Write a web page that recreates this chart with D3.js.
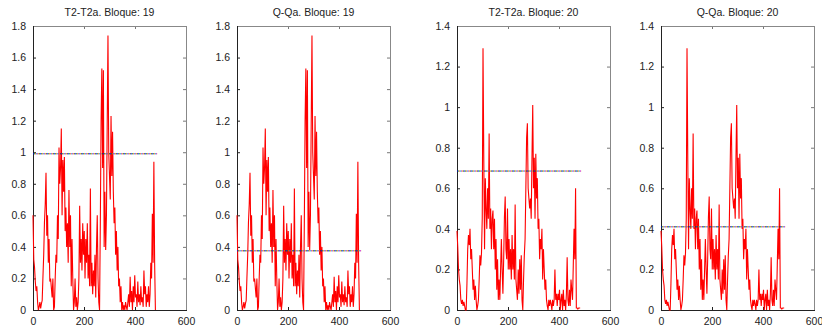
<!DOCTYPE html>
<html>
<head>
<meta charset="utf-8">
<script src="https://cdn.jsdelivr.net/npm/d3@7"></script>
<style>
  html, body { margin: 0; padding: 0; background: #fff; }
  svg { display: block; }
  text { font-family: "Liberation Sans", Arial, sans-serif; fill: #222; }
</style>
</head>
<body>
<svg id="chart" width="822" height="330"></svg>
<script>
// ---- data (one value every 3 samples) ----
const sampleStep = 3;
const bloque19 = [
  0.60,0.32,0.27,0.18,0.12,0.15,0.05,0.00,0.02,0.05,0.01,0.04,0.06,0.21,0.35,0.56,
  0.67,0.87,0.47,0.60,0.30,0.45,0.18,0.20,0.14,0.08,0.20,0.00,0.02,0.20,0.35,0.30,
  0.60,0.45,1.03,0.80,0.90,1.15,0.60,0.95,0.75,0.97,0.50,0.65,0.40,0.55,0.30,0.76,
  0.40,0.60,0.15,0.45,0.20,0.00,0.05,0.20,0.02,0.08,0.00,0.05,0.20,0.66,0.30,0.45,
  0.25,0.55,0.35,0.50,0.20,0.45,0.30,0.55,0.20,0.35,0.15,0.77,0.15,0.30,0.10,0.25,
  0.15,0.35,0.08,0.40,0.60,0.20,0.05,0.00,0.55,1.20,1.53,0.90,1.52,0.40,0.75,0.38,
  0.60,1.18,1.74,1.00,0.85,0.70,1.23,0.85,1.13,0.75,0.55,0.65,0.35,0.50,0.25,0.40,
  0.15,0.20,0.05,0.15,0.00,0.05,0.00,0.03,0.00,0.05,0.02,0.00,0.05,0.10,0.02,0.21,
  0.05,0.12,0.00,0.15,0.05,0.22,0.08,0.10,0.02,0.18,0.05,0.10,0.03,0.15,0.05,0.08,
  0.02,0.25,0.10,0.15,0.02,0.10,0.05,0.15,0.02,0.10,0.30,0.20,0.61,0.30,0.94,0.30,
  0.00
];
const bloque20 = [
  0.39,0.31,0.20,0.15,0.12,0.05,0.03,0.05,0.02,0.04,0.02,0.00,0.00,0.13,0.30,0.37,
  0.32,0.40,0.25,0.30,0.20,0.10,0.15,0.05,0.12,0.05,0.00,0.02,0.05,0.15,0.27,0.22,
  0.28,0.45,1.29,0.75,0.30,0.65,0.50,0.40,0.60,0.45,0.87,0.40,0.50,0.30,0.45,0.49,
  0.30,0.45,0.20,0.35,0.10,0.25,0.05,0.15,0.05,0.20,0.35,0.20,0.08,0.25,0.46,0.56,
  0.30,0.25,0.50,0.20,0.35,0.20,0.30,0.15,0.37,0.20,0.30,0.15,0.52,0.15,0.10,0.05,
  0.20,0.08,0.25,0.10,0.27,0.05,0.00,0.15,0.27,0.35,0.60,0.85,0.92,0.60,0.55,0.50,
  0.55,0.45,0.75,1.01,0.60,0.75,0.45,0.77,0.55,0.65,0.40,0.45,0.25,0.35,0.30,0.40,
  0.15,0.30,0.20,0.10,0.15,0.05,0.02,0.00,0.05,0.02,0.05,0.03,0.00,0.05,0.02,0.05,
  0.20,0.05,0.08,0.02,0.08,0.05,0.10,0.00,0.05,0.08,0.00,0.10,0.02,0.05,0.00,0.08,
  0.26,0.05,0.02,0.10,0.02,0.15,0.10,0.05,0.22,0.40,0.25,0.60,0.01,0.01,0.005,0.01,
  0.01,0.01
];
const titles = ["T2-T2a. Bloque: 19", "Q-Qa. Bloque: 19", "T2-T2a. Bloque: 20", "Q-Qa. Bloque: 20"];
const seriesByPanel = [bloque19, bloque19, bloque20, bloque20];
const thresholds = [0.99, 0.375, 0.685, 0.41];
const thresholdEnd = 487;
const yMaxes = [1.8, 1.8, 1.4, 1.4];
const xTicks = [0, 200, 400, 600];
const xDomain = [0, 600];

// ---- layout ----
const svg = d3.select("#chart");
const panelLefts = [33, 237, 457, 661];
const pw = 153, ph = 284, panelTop = 26;
const dotColors = ["#0000ff", "#00a000", "#ff3030", "#00b0c0", "#c000c0", "#c0a000", "#303030"];

titles.forEach((title, p) => {
  const g = svg.append("g").attr("transform", `translate(${panelLefts[p]},${panelTop})`);
  const x = d3.scaleLinear().domain(xDomain).range([0, pw]);
  const y = d3.scaleLinear().domain([0, yMaxes[p]]).range([ph, 0]);
  const yTicks = d3.range(0, yMaxes[p] + 1e-9, 0.2).map(v => +v.toFixed(1));
  const fmt = d => String(+d.toFixed(1));

  const styleAxis = (sel, color, showText) => {
    sel.select(".domain").remove();
    sel.selectAll(".tick line").attr("stroke", color).attr("stroke-width", 1);
    sel.selectAll(".tick text").style("font-size", "10.5px")
      .style("font-family", "'Liberation Sans', Arial, sans-serif").attr("fill", "#222");
    if (!showText) sel.selectAll(".tick text").remove();
  };
  g.append("g").attr("transform", `translate(0,${ph})`)
    .call(d3.axisBottom(x).tickValues(xTicks).tickSize(-3).tickPadding(8).tickFormat(d3.format("d")))
    .call(s => styleAxis(s, "#222", true));
  g.append("g")
    .call(d3.axisTop(x).tickValues(xTicks).tickSize(-3))
    .call(s => styleAxis(s, "#777", false));
  g.append("g")
    .call(d3.axisLeft(y).tickValues(yTicks).tickSize(-3).tickPadding(7).tickFormat(fmt))
    .call(s => styleAxis(s, "#222", true));
  g.append("g").attr("transform", `translate(${pw},0)`)
    .call(d3.axisRight(y).tickValues(yTicks).tickSize(-3))
    .call(s => styleAxis(s, "#777", false));

  g.append("line").attr("x1", 0.5).attr("x2", pw + 0.5).attr("y1", 0.5).attr("y2", 0.5).attr("stroke", "#888");
  g.append("line").attr("x1", pw + 0.5).attr("x2", pw + 0.5).attr("y1", 0).attr("y2", ph).attr("stroke", "#888");
  g.append("line").attr("x1", 0.5).attr("x2", 0.5).attr("y1", 0).attr("y2", ph + 0.5).attr("stroke", "#222");
  g.append("line").attr("x1", 0).attr("x2", pw + 1).attr("y1", ph + 0.5).attr("y2", ph + 0.5).attr("stroke", "#222");

  const data = seriesByPanel[p];
  const line = d3.line().x((d, i) => x(i * sampleStep)).y(d => y(d));
  g.append("path").datum(data).attr("d", line)
    .attr("fill", "none").attr("stroke", "#ff0000").attr("stroke-width", 1.1)
    .attr("stroke-linejoin", "miter");

  dotColors.forEach((c, k) => {
    g.append("line")
      .attr("x1", x(0)).attr("x2", x(thresholdEnd))
      .attr("y1", y(thresholds[p])).attr("y2", y(thresholds[p]))
      .attr("stroke", c).attr("stroke-width", 1)
      .attr("stroke-dasharray", "1,6").attr("stroke-dashoffset", -k);
  });

  svg.append("text")
    .attr("x", panelLefts[p] + pw / 2).attr("y", 16)
    .attr("text-anchor", "middle")
    .style("font-size", "10.5px")
    .text(title);
});
</script>
</body>
</html>
